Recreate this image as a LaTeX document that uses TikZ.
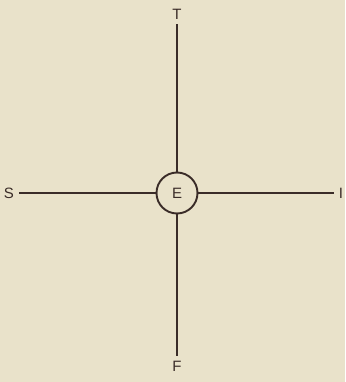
\documentclass[tikz,border=0pt]{standalone}
\usepackage{fontspec}
\setmainfont{Liberation Sans}
\usetikzlibrary{positioning}
\definecolor{paper}{RGB}{233,226,202}
\definecolor{ink}{RGB}{58,44,40}

\begin{document}
\begin{tikzpicture}[
    x=1pt, y=-1pt,
    hub/.style = {circle, draw=ink, line width=1.9pt, minimum size=41pt, inner sep=0pt, text=ink, font=\fontsize{15}{17}\selectfont},
    lbl/.style = {inner sep=0pt, outer sep=5pt, text=ink, font=\fontsize{15}{17}\selectfont},
    arm/.style = {draw=ink, line width=1.9pt}
]
\fill[paper] (0,0) rectangle (345,382);
\useasboundingbox (0,0) rectangle (345,382);

\node[hub] (e) at (177,193) {E};
\node[lbl] (t) at (177,14) {T};
\node[lbl] (f) at (177,366) {F};
\node[lbl] (s) at (9,193) {S};
\node[lbl] (i) at (341,193) {I};

\draw[arm] (t) -- (e);
\draw[arm] (e) -- (f);
\draw[arm] (s) -- (e);
\draw[arm] (e) -- (i);
\end{tikzpicture}
\end{document}
